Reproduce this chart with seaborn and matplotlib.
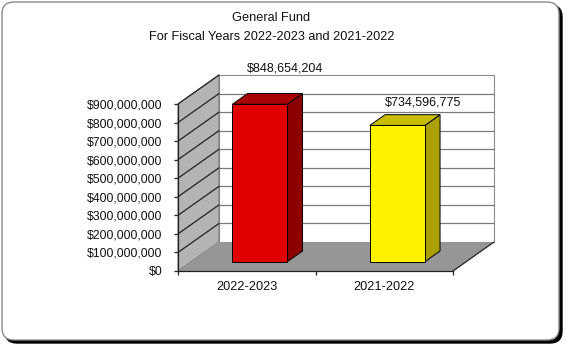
import numpy as np
import pandas as pd
import matplotlib
matplotlib.use("Agg")
import matplotlib.pyplot as plt
import seaborn as sns
from matplotlib import font_manager
from matplotlib.patches import Polygon, FancyBboxPatch
from matplotlib.transforms import IdentityTransform, ScaledTranslation

# ---- data ----
categories = ["2022-2023", "2021-2022"]
values = [848654204, 734596775]
value_labels = ["$848,654,204", "$734,596,775"]
title_lines = ["General Fund", "For Fiscal Years 2022-2023 and 2021-2022"]
ytick_values = [0, 100000000, 200000000, 300000000, 400000000,
                500000000, 600000000, 700000000, 800000000, 900000000]

front_colors = ["#E00000", "#FFF200"]
top_colors = ["#A80000", "#C8BE00"]
side_colors = ["#8C0000", "#AAA000"]

sns.set_style("white")
names = {f.name for f in font_manager.fontManager.ttflist}
narrow = "Liberation Sans Narrow" in names
if narrow:
    plt.rcParams["font.family"] = ["Liberation Sans Narrow", "DejaVu Sans"]
    fs_title, fs_tick, fs_cat, fs_val = 11.1, 10.6, 11.1, 10.4
else:
    plt.rcParams["font.family"] = ["Liberation Sans", "DejaVu Sans"]
    fs_title, fs_tick, fs_cat, fs_val = 9.2, 8.8, 9.2, 9.0

W, H = 567, 347
fig = plt.figure(figsize=(W / 100, H / 100), dpi=100)
fig.patch.set_facecolor("white")

# ---- frame with shadow ----
shadow = FancyBboxPatch((5, H - 343), 557, 338,
                        boxstyle="round,pad=0,rounding_size=12",
                        transform=IdentityTransform(), facecolor="black",
                        edgecolor="black", lw=1, zorder=-3)
frame = FancyBboxPatch((2, H - 340), 557, 338,
                       boxstyle="round,pad=0,rounding_size=12",
                       transform=IdentityTransform(), facecolor="white",
                       edgecolor="#8a8a8a", lw=1, zorder=-2)
fig.patches.extend([shadow, frame])

# ---- main axes = front plane ----
x_left, x_right, y_zero, y_top = 178, 453, 271, 104
ax = fig.add_axes([x_left / W, (H - y_zero) / H,
                   (x_right - x_left) / W, (y_zero - y_top) / H])
ax.set_zorder(1)
ax.patch.set_visible(False)

DEPTH = np.array([41.0, 29.0])  # full depth offset in pixels
F_DEPTH, B_DEPTH = 0.32, 0.69  # bar front/back depth fractions


def disp(x, y, d):
    p = ax.transData.transform((x, y))
    return p + d * DEPTH


def poly(pts, **kw):
    p = Polygon(np.array(pts), closed=True, transform=IdentityTransform(),
                clip_on=False, **kw)
    ax.add_patch(p)
    return p


df = pd.DataFrame({"year": categories, "amount": values})
sns.barplot(data=df, x="year", y="amount", hue="year", palette=front_colors,
            width=0.4, legend=False, edgecolor="black", linewidth=0.7,
            saturation=1, ax=ax)
bars = list(ax.patches)
ax.set_xlim(-0.5, 1.5)
ax.set_ylim(0, ytick_values[-1])

ymax = ytick_values[-1]
xl, xr = -0.5, 1.5

# back wall
poly([disp(xl, 0, 1), disp(xr, 0, 1), disp(xr, ymax, 1), disp(xl, ymax, 1)],
     facecolor="white", edgecolor="#8c8c8c", lw=0.8, zorder=1)
for v in ytick_values[1:-1]:
    a, b = disp(xl, v, 1), disp(xr, v, 1)
    ax.add_line(plt.Line2D([a[0], b[0]], [a[1], b[1]], color="#7a7a7a", lw=0.9,
                           transform=IdentityTransform(), clip_on=False, zorder=1.1))
# side wall
poly([disp(xl, 0, 0), disp(xl, 0, 1), disp(xl, ymax, 1), disp(xl, ymax, 0)],
     facecolor="#b4b4b4", edgecolor="#7a7a7a", lw=0.8, zorder=1.2)
for v in ytick_values[1:]:
    a, b = disp(xl, v, 0), disp(xl, v, 1)
    ax.add_line(plt.Line2D([a[0], b[0]], [a[1], b[1]], color="#222222", lw=0.9,
                           transform=IdentityTransform(), clip_on=False, zorder=1.3))
# floor
poly([disp(xl, 0, 0), disp(xr, 0, 0), disp(xr, 0, 1), disp(xl, 0, 1)],
     facecolor="#969696", edgecolor="none", zorder=1.4)
a, b = disp(xr, 0, 0), disp(xr, 0, 1)
ax.add_line(plt.Line2D([a[0], b[0]], [a[1], b[1]], color="#222222", lw=0.9,
                       transform=IdentityTransform(), clip_on=False, zorder=1.5))

# bars: shift front faces back, add top and side faces
shift = ScaledTranslation(F_DEPTH * DEPTH[0] / 100, F_DEPTH * DEPTH[1] / 100,
                          fig.dpi_scale_trans)
for i, bar in enumerate(bars):
    bar.set_transform(ax.transData + shift)
    bar.set_zorder(5)
    bar.set_clip_on(False)
    x0 = bar.get_x()
    x1 = x0 + bar.get_width()
    h = bar.get_height()
    poly([disp(x1, 0, F_DEPTH), disp(x1, 0, B_DEPTH), disp(x1, h, B_DEPTH),
          disp(x1, h, F_DEPTH)], facecolor=side_colors[i], edgecolor="black",
         lw=0.7, zorder=4)
    poly([disp(x0, h, F_DEPTH), disp(x1, h, F_DEPTH), disp(x1, h, B_DEPTH),
          disp(x0, h, B_DEPTH)], facecolor=top_colors[i], edgecolor="black",
         lw=0.7, zorder=4)

# value labels
label_shift = [(25, 36), (26, 23)]
for i, bar in enumerate(bars):
    cx = bar.get_x() + bar.get_width() / 2
    p = disp(cx, bar.get_height(), F_DEPTH)
    ax.text(p[0] + label_shift[i][0], p[1] + label_shift[i][1], value_labels[i],
            transform=IdentityTransform(), ha="center", va="center",
            fontsize=fs_val, color="#111111", zorder=6)

# axes styling
for s in ["top", "right"]:
    ax.spines[s].set_visible(False)
for s in ["left", "bottom"]:
    ax.spines[s].set_visible(True)
    ax.spines[s].set_color("#222222")
    ax.spines[s].set_linewidth(0.9)
    ax.spines[s].set_zorder(2)

ax.set_yticks(ytick_values)
ax.set_yticklabels([f"${v:,.0f}" for v in ytick_values])
ax.tick_params(axis="y", direction="out", length=3, width=0.9, color="#222222",
               pad=8, labelsize=fs_tick, labelcolor="#111111", left=True)
ax.set_xticks([0, 1])
ax.set_xticklabels(categories)
ax.set_xticks([-0.5, 0.5, 1.5], minor=True)
ax.tick_params(axis="x", which="major", length=0, pad=7, labelsize=fs_cat,
               labelcolor="#111111")
ax.tick_params(axis="x", which="minor", direction="out", length=3, width=0.9,
               color="#222222", bottom=True)
ax.set_xlabel("")
ax.set_ylabel("")

# title
fig.text(271.5 / W, 1 - 17.7 / H, title_lines[0], ha="center", va="center",
         fontsize=fs_title, color="#111111")
fig.text(271.5 / W, 1 - 36.7 / H, title_lines[1], ha="center", va="center",
         fontsize=fs_title, color="#111111")

fig.savefig("out.png", dpi=100, facecolor="white")
